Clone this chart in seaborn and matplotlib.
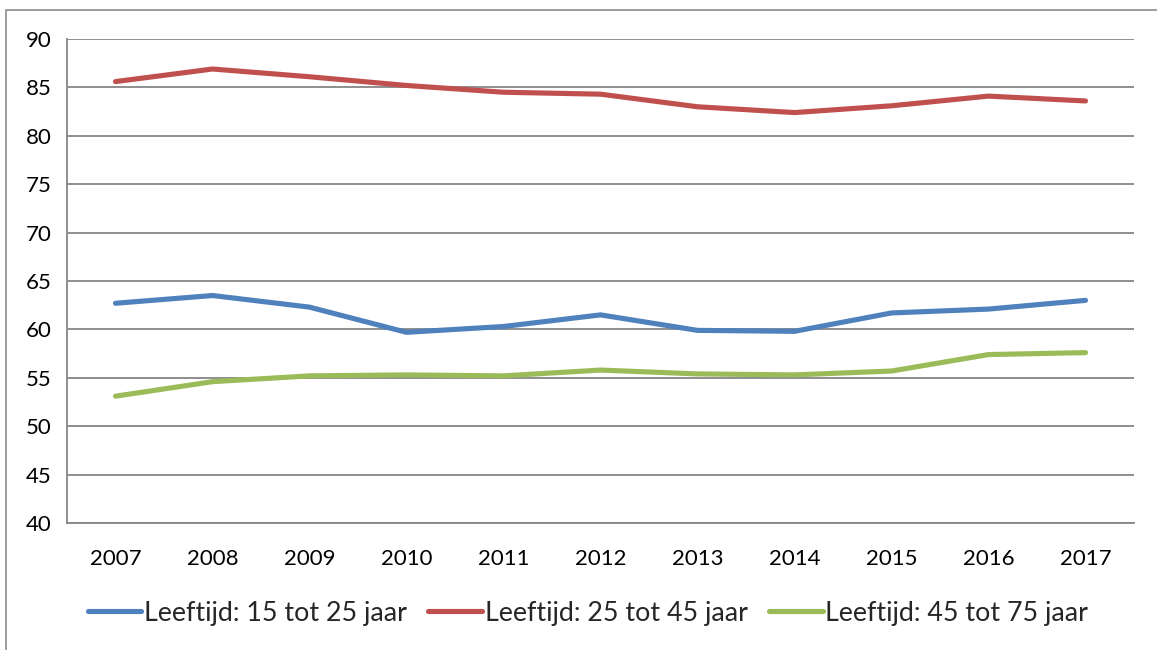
import matplotlib
matplotlib.use("Agg")
import matplotlib.pyplot as plt
import seaborn as sns
import pandas as pd
import numpy as np
from matplotlib.patches import Rectangle
from matplotlib.lines import Line2D

years = [2007, 2008, 2009, 2010, 2011, 2012, 2013, 2014, 2015, 2016, 2017]
series_names = ["Leeftijd: 15 tot 25 jaar", "Leeftijd: 25 tot 45 jaar", "Leeftijd: 45 tot 75 jaar"]
age_15_25 = [62.7, 63.5, 62.3, 59.7, 60.3, 61.5, 59.9, 59.8, 61.7, 62.1, 63.0]
age_25_45 = [85.6, 86.9, 86.1, 85.2, 84.5, 84.3, 83.0, 82.4, 83.1, 84.1, 83.6]
age_45_75 = [53.1, 54.6, 55.2, 55.3, 55.2, 55.8, 55.4, 55.3, 55.7, 57.4, 57.6]
colors = ["#4F81BD", "#C0504D", "#9BBB59"]
y_ticks = [40, 45, 50, 55, 60, 65, 70, 75, 80, 85, 90]

df = pd.DataFrame({
    "jaar": years * 3,
    "waarde": age_15_25 + age_25_45 + age_45_75,
    "reeks": [series_names[0]] * 11 + [series_names[1]] * 11 + [series_names[2]] * 11,
})

sns.set_theme(style="white")
plt.rcParams["font.family"] = ["Lato", "DejaVu Sans"]

W, H = 1157, 650
fig = plt.figure(figsize=(W / 100, H / 100), dpi=100)
fig.patch.set_facecolor("white")
fig.patches.append(Rectangle((6 / W, -0.01), 1.2, 1 - 10 / H + 0.01, transform=fig.transFigure,
                             fill=False, edgecolor="#8c8c8c", linewidth=1.2))

ax = fig.add_axes([67 / W, 1 - 523 / H, (1134 - 67) / W, (523 - 39) / H])
sns.lineplot(data=df, x="jaar", y="waarde", hue="reeks", palette=colors, ax=ax,
             linewidth=3.7, legend=False, solid_capstyle="round")

ax.set_xlim(2006.5, 2017.5)
ax.set_ylim(40, 90)
ax.set_yticks(y_ticks)
ax.set_yticklabels([str(v) for v in y_ticks], fontsize=16, color="black")
ax.set_xticks(years)
ax.set_xticklabels([str(y) for y in years], fontsize=16, color="black")
ax.set_xticks(np.arange(2006.5, 2018.0, 1.0), minor=True)
ax.tick_params(axis="x", which="major", length=0, pad=19)
ax.tick_params(axis="x", which="minor", length=7, color="#868686", width=1.3, direction="out")
ax.tick_params(axis="y", which="major", length=7, color="#868686", width=1.3, direction="out", pad=4)
ax.set_xlabel("")
ax.set_ylabel("")
ax.grid(axis="y", color="#868686", linewidth=1.3)
ax.set_axisbelow(True)
for side in ["top", "right"]:
    ax.spines[side].set_visible(False)
for side in ["left", "bottom"]:
    ax.spines[side].set_color("#868686")
    ax.spines[side].set_linewidth(1.3)

handles = [Line2D([0], [0], color=c, linewidth=3.7, solid_capstyle="round") for c in colors]
fig.legend(handles, series_names, loc="center", bbox_to_anchor=(588 / W, 1 - 613 / H), ncol=3,
           frameon=False, fontsize=19.3, handlelength=2.0, handletextpad=0.1, columnspacing=0.8)

fig.savefig("out.png", dpi=100)
